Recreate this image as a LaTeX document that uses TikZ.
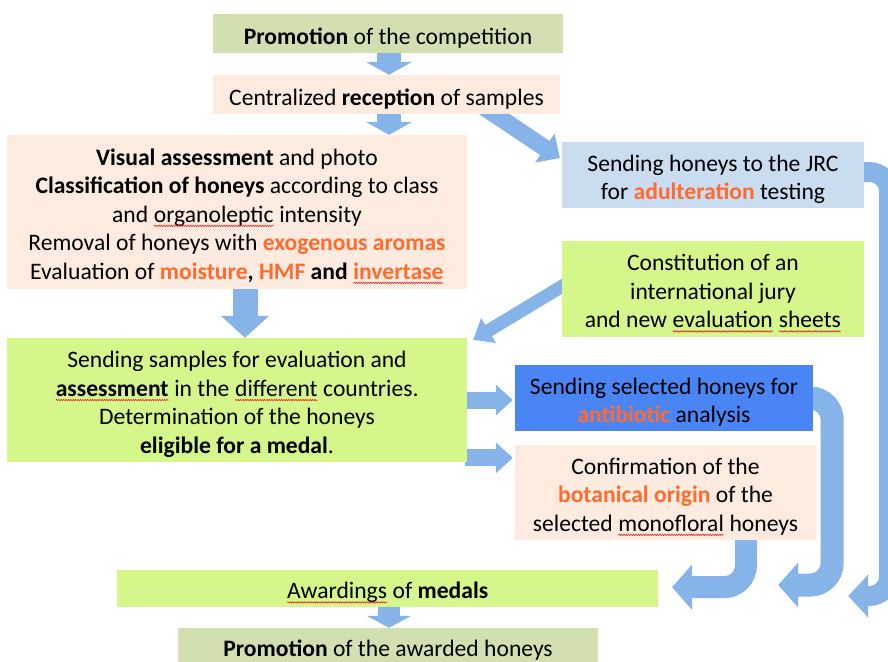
\documentclass[tikz,border=0pt]{standalone}
\usepackage{fontspec}
\setmainfont{Carlito}
\usetikzlibrary{arrows.meta,calc,decorations.pathmorphing}
\definecolor{cOlive}{HTML}{D2DFB0}
\definecolor{cPeach}{HTML}{FCEBDE}
\definecolor{cLblue}{HTML}{CADCF0}
\definecolor{cLime}{HTML}{D5F68A}
\definecolor{cBlue}{HTML}{4A85F5}
\definecolor{cOrange}{HTML}{FF6B2F}
\definecolor{cSq}{HTML}{E02424}
\definecolor{cArrow}{HTML}{86B3E8}
\newcommand\sq[1]{\tikz[baseline=(sqt.base)]{\node[rectangle, inner sep=0pt, outer sep=0pt, minimum width=0pt, minimum height=0pt, fill=none, draw=none, anchor=base, align=left] (sqt) at (0,0) {#1};\draw[cSq, line width=0.6pt, decorate, decoration={snake, amplitude=0.7pt, segment length=2.4pt}] ([yshift=-3.8pt]sqt.base west) -- ([yshift=-3.8pt]sqt.base east);}}
\newcommand\hl[1]{\textbf{\color{cOrange}#1}}
\newcommand\topstrut{\rule{0pt}{25pt}}
\pgfdeclarelayer{bg}
\pgfsetlayers{bg,main}
\tikzset{
  box/.style={rectangle, inner sep=0pt, align=center, font=\fontsize{23.6}{28.5}\selectfont},
  blk/.style n args={3}{draw=cArrow, line width=#1, -{Triangle[width=#2,length=#3]}},
}
\begin{document}
\begin{tikzpicture}[x=1pt,y=-1pt]
\useasboundingbox (0,0) rectangle (888,661);
\clip (0,0) rectangle (888,661);
\node[box, fill=cOlive, minimum width=350pt, minimum height=39pt] (promo) at (388,33.5) {\topstrut\textbf{Promotion} of the competition};
\node[box, fill=cPeach, minimum width=347pt, minimum height=39pt] (recep) at (386.5,94.5) {\topstrut Centralized \textbf{reception} of samples};
\node[box, fill=cPeach, minimum width=460pt, minimum height=154pt] (visual) at (237,212) {\topstrut\textbf{Visual assessment} and photo\\ \textbf{Classification of honeys} according to class\\ and \sq{organoleptic} intensity\\ Removal of honeys with \hl{exogenous aromas}\\ Evaluation of \hl{moisture}\textbf{,} \hl{HMF} \textbf{and} \sq{\hl{invertase}}};
\node[box, fill=cLblue, minimum width=302pt, minimum height=66pt] (jrc) at (713,175) {\topstrut Sending honeys to the JRC\\ for \hl{adulteration} testing};
\node[box, fill=cLime, minimum width=302pt, minimum height=96pt] (jury) at (713,289) {\topstrut Constitution of an\\ international jury\\ and new \sq{evaluation} \sq{sheets}};
\node[box, fill=cLime, minimum width=460pt, minimum height=124pt] (samples) at (237,400) {\topstrut Sending samples for evaluation and\\ \sq{\textbf{assessment}} in the \sq{different} countries.\\ Determination of the honeys\\ \textbf{eligible for a medal}.};
\node[box, fill=cBlue, minimum width=298pt, minimum height=66pt] (antib) at (664,398) {\topstrut Sending selected honeys for\\ \hl{antibiotic} analysis};
\node[box, fill=cPeach, minimum width=301pt, minimum height=95pt] (confirm) at (665.5,492.5) {\topstrut Confirmation of the\\ \hl{botanical origin} of the\\ selected \sq{monofloral} honeys};
\node[box, fill=cLime, minimum width=541pt, minimum height=37pt] (award) at (387.5,588.5) {\topstrut\sq{Awardings} of \textbf{medals}};
\node[box, fill=cOlive, minimum width=420pt, minimum height=44pt] (promo2) at (388,650) {\textbf{Promotion} of the awarded honeys};
\begin{pgfonlayer}{bg}
\draw[blk={24pt}{46pt}{13pt}] ($(promo.south)+(1,-2)$) -- ($(promo.south |- recep.north)+(1,0)$);
\draw[blk={24pt}{46pt}{13pt}] ($(recep.south)+(2.5,-2)$) -- ($(recep.south |- visual.north)+(2.5,0)$);
\draw[blk={25pt}{47pt}{22pt}] ($(visual.south)+(8,-2)$) -- ($(visual.south |- samples.north)+(8,0)$);
\draw[blk={22pt}{44pt}{12pt}] ($(award.south)+(1.5,-2)$) -- ($(award.south |- promo2.north)+(1.5,0)$);
\draw[blk={17pt}{34pt}{18pt}] ($(recep.south)+(96,-8)$) -- ($(jrc.west)+(-2,-17)$);
\draw[blk={13pt}{28pt}{18pt}] ($(jury.west)+(4,-5)$) -- ($(samples.north east)+(6,2)$);
\draw[blk={17pt}{30pt}{17pt}] ($(samples.east |- antib.west)+(-2,2)$) -- ($(antib.west)+(-2,2)$);
\draw[blk={17pt}{30pt}{17pt}] ($(samples.east |- confirm.north west)+(-2,13)$) -- ($(confirm.north west)+(-2,13)$);
\draw[blk={22pt}{44pt}{20pt}, rounded corners=22pt] ($(confirm.south)+(80.5,-5)$) -- ++(0,52) -- ++(-74,0);
\draw[blk={23pt}{44pt}{20pt}, rounded corners=22pt] ($(antib.east)+(-5,0)$) -- ++(24,0) -- ++(0,187) -- ++(-54,0);
\draw[blk={20pt}{42pt}{20pt}, rounded corners=20pt] ($(jrc.east)+(-5,-3)$) -- ++(30,0) -- ++(0,424) -- ++(-41,0);
\end{pgfonlayer}
\end{tikzpicture}
\end{document}
